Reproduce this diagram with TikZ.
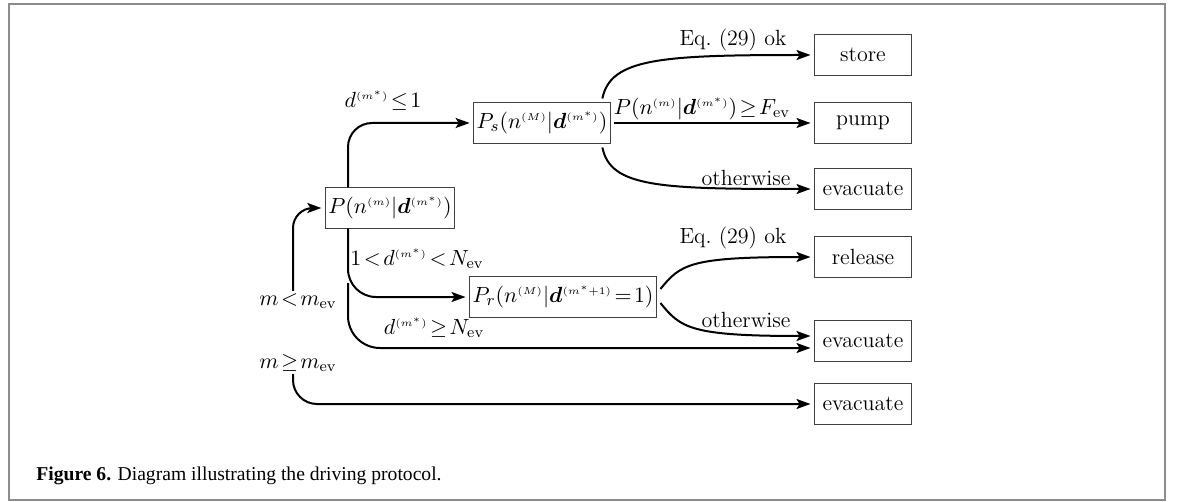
\documentclass[tikz,border=0pt]{standalone}
\usepackage{bm}
\usepackage{fontspec}
\newfontfamily\capfont{Liberation Serif}
\usetikzlibrary{arrows.meta}

\newcommand{\up}[1]{^{\scriptscriptstyle(#1)}}

\tikzset{
    box/.style={draw=black!75, line width=0.6pt, minimum height=20.5pt, inner sep=1.5pt, outer sep=2pt},
    endbox/.style={box, minimum width=48.5pt},
    flow/.style={line width=1pt, -{Stealth[length=7pt,width=5pt,inset=1.5pt]}},
    lbl/.style={inner sep=1pt},
}

\begin{document}
\begin{tikzpicture}[x=0.5pt,y=-0.5pt,font=\fontsize{11}{13}\selectfont]
    \useasboundingbox (0,0) rectangle (1182,502);
    \draw[black!45,line width=1pt] (9,4) rectangle (1165,500);

    % decisions
    \node[box] (P)  at (390,208) {$P(n\up{m}|\bm{d}\up{m^*})$};
    \node[box] (Ps) at (542,123) {$P_s(n\up{M}|\bm{d}\up{m^*})$};
    \node[box] (Pr) at (563,297) {$P_r(n\up{M}|\bm{d}\up{m^*+1}\!=\!1)$};

    % outcomes
    \node[endbox] (store) at (863,55)  {store};
    \node[endbox] (pump)  at (863,123) {pump};
    \node[endbox] (evA)   at (863,189) {evacuate};
    \node[endbox] (rel)   at (863,257) {release};
    \node[endbox] (evB)   at (863,341) {evacuate};
    \node[endbox] (evC)   at (863,404) {evacuate};

    % conditions
    \node[lbl] (mlt) at (298,301) {$m\!<\!m_{\rm ev}$};
    \node[lbl] (mge) at (298,363) {$m\!\geq\!m_{\rm ev}$};
    \node[lbl] (dle) at (383,101) {$d\up{m^*}\!\leq\!1$};
    \node[lbl] (dmid) at (417,259) {$1\!<\!d\up{m^*}\!<\!N_{\rm ev}$};
    \node[lbl] (dge) at (434,328) {$d\up{m^*}\!\geq\!N_{\rm ev}$};
    \node[lbl] (eqS) at (733,40)  {Eq.~(29) ok};
    \node[lbl] (pF)  at (702,109) {$P(n\up{m}|\bm{d}\up{m^*})\!\geq\!F_{\rm ev}$};
    \node[lbl] (othA) at (746,178) {otherwise};
    \node[lbl] (eqR) at (733,238) {Eq.~(29) ok};
    \node[lbl] (othB) at (746,320) {otherwise};

    \coordinate (split) at (348,283);

    \draw[flow,rounded corners=10pt] ([xshift=-2.5pt]mlt.north) |- (P.west);
    \draw[flow,rounded corners=12pt] ([xshift=-2.5pt]mge.south) |- (evC.west);
    \draw[flow,rounded corners=12pt] ([xshift=-21pt,yshift=-2pt]P.north) |- (Ps.west);
    \draw[flow,rounded corners=14pt] ([xshift=-21pt,yshift=2pt]P.south) |- (Pr.west);
    \draw[flow,rounded corners=16pt] (split) |- ([yshift=-3.5pt]evB.west);

    \draw[flow] ([xshift=-6pt]Ps.north east) .. controls +(8,-40) and +(-150,0) .. (store.west);
    \draw[flow] (Ps.east) -- (pump.west);
    \draw[flow] ([xshift=-6pt]Ps.south east) .. controls +(8,40) and +(-150,0) .. (evA.west);

    \draw[flow] ([yshift=4pt]Pr.east) .. controls +(20,-25) and +(-120,0) .. (rel.west);
    \draw[flow] ([yshift=-3pt]Pr.east) .. controls +(20,25) and +(-120,0) .. ([yshift=2.5pt]evB.west);

    \node[anchor=base west,inner sep=0pt,font=\capfont\fontsize{9.8}{12}\selectfont] (cap) at (36,480)
        {\textbf{Figure 6.} Diagram illustrating the driving protocol.};
\end{tikzpicture}
\end{document}
